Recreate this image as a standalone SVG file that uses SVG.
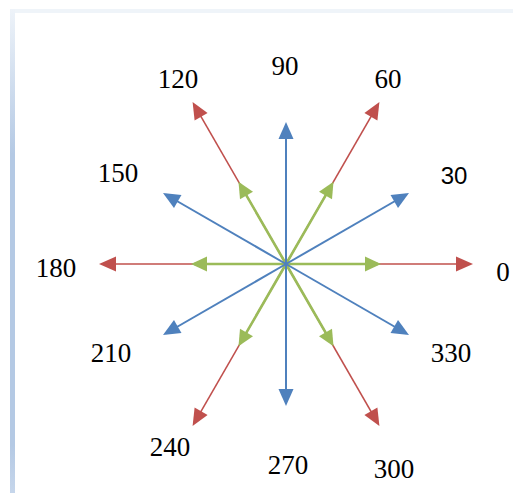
<svg xmlns="http://www.w3.org/2000/svg" width="513" height="493" viewBox="0 0 513 493">
<style>
.t{font-family:"Liberation Serif","Times New Roman",serif;font-size:27px;fill:#000;text-anchor:middle}
.s{font-family:"Liberation Sans",Arial,sans-serif;font-size:24px;fill:#000;text-anchor:middle}
.r{stroke:#C0504D;stroke-width:1.6;fill:none}
.b{stroke:#4F81BD;stroke-width:2;fill:none}
.g{stroke:#9BBB59;stroke-width:2.6;fill:none}
</style>
<defs>
<linearGradient id="lg" x1="0" y1="0" x2="0" y2="1">
<stop offset="0" stop-color="#eef3f9"/>
<stop offset="0.3" stop-color="#b4c9e4"/>
<stop offset="0.9" stop-color="#b4c9e4"/>
<stop offset="1" stop-color="#c6d6eb"/>
</linearGradient>
<marker id="mr" markerUnits="userSpaceOnUse" markerWidth="18" markerHeight="16" refX="14" refY="7.5" orient="auto" overflow="visible"><path d="M0,0 L17,7.5 L0,15 z" fill="#C0504D"/></marker>
<marker id="mb" markerUnits="userSpaceOnUse" markerWidth="18" markerHeight="16" refX="14" refY="7.5" orient="auto" overflow="visible"><path d="M0,0 L17,7.5 L0,15 z" fill="#4F81BD"/></marker>
<marker id="mg" markerUnits="userSpaceOnUse" markerWidth="18" markerHeight="16" refX="13" refY="7.5" orient="auto" overflow="visible"><path d="M0,0 L16,7.5 L0,15 z" fill="#9BBB59"/></marker>
</defs>
<g id="frame">
<rect x="10" y="9" width="503" height="4" fill="#eff4f9"/>
<rect x="10" y="9" width="5" height="484" fill="url(#lg)"/>
</g>
<g id="connectors">
<g class="r" marker-end="url(#mr)">
<line x1="286" y1="264" x2="470" y2="264"/>
<line x1="286" y1="264" x2="377.9" y2="104.7"/>
<line x1="286" y1="264" x2="194.1" y2="104.7"/>
<line x1="286" y1="264" x2="102" y2="264"/>
<line x1="286" y1="264" x2="194.1" y2="423.3"/>
<line x1="286" y1="264" x2="377.9" y2="423.3"/>
</g>
<g class="g" marker-end="url(#mg)">
<line x1="286" y1="264" x2="378" y2="264"/>
<line x1="286" y1="264" x2="332" y2="184.3"/>
<line x1="286" y1="264" x2="240" y2="184.3"/>
<line x1="286" y1="264" x2="194" y2="264"/>
<line x1="286" y1="264" x2="240" y2="343.7"/>
<line x1="286" y1="264" x2="332" y2="343.7"/>
</g>
<g class="b" marker-end="url(#mb)">
<line x1="286" y1="264" x2="406.4" y2="194.5"/>
<line x1="286" y1="264" x2="286" y2="125"/>
<line x1="286" y1="264" x2="165.6" y2="194.5"/>
<line x1="286" y1="264" x2="165.6" y2="333.5"/>
<line x1="286" y1="264" x2="286" y2="403"/>
<line x1="286" y1="264" x2="406.4" y2="333.5"/>
</g>
</g>
<g id="labels">
<g id="l0"><text class="t" x="503" y="281">0</text></g>
<g id="l30"><text class="s" x="454" y="184">30</text></g>
<g id="l60"><text class="t" x="388" y="88">60</text></g>
<g id="l90"><text class="t" x="285" y="75">90</text></g>
<g id="l120"><text class="t" x="178" y="88">120</text></g>
<g id="l150"><text class="t" x="118" y="182">150</text></g>
<g id="l180"><text class="t" x="56" y="277">180</text></g>
<g id="l210"><text class="t" x="111" y="362">210</text></g>
<g id="l240"><text class="t" x="170" y="456">240</text></g>
<g id="l270"><text class="t" x="288" y="474">270</text></g>
<g id="l300"><text class="t" x="394" y="478">300</text></g>
<g id="l330"><text class="t" x="451" y="362">330</text></g>
</g>
</svg>
